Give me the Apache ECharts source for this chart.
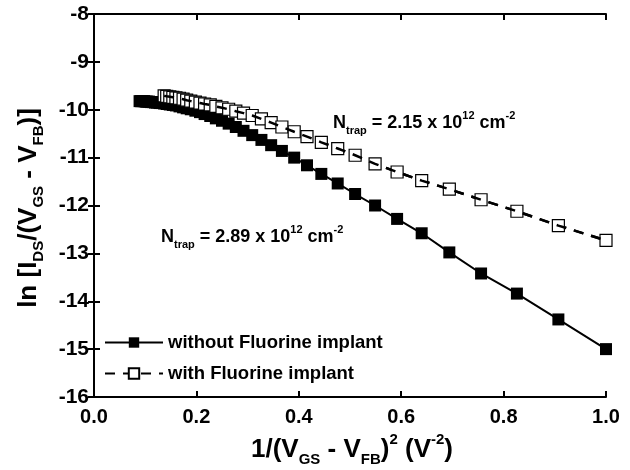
<!DOCTYPE html>
<html><head><meta charset="utf-8">
<script src="https://cdn.jsdelivr.net/npm/echarts@6/dist/echarts.min.js"></script>
<style>html,body{margin:0;padding:0;background:#fff}#c{width:630px;height:470px}</style>
</head><body><div id="c"></div>
<script>
// ---- data ----
const xWithout = [0.089,0.0918,0.0947,0.0977,0.1008,0.104,0.1075,0.111,0.115,0.119,0.123,0.128,0.132,0.137,0.142,0.148,0.154,0.160,0.167,0.174,0.181,0.189,0.198,0.207,0.216,0.227,0.238,0.250,0.263,0.277,0.292,0.309,0.327,0.346,0.367,0.391,0.416,0.444,0.476,0.510,0.549,0.592,0.640,0.694,0.756,0.826,0.907,1.0];
const yWithout = [-9.82,-9.82,-9.82,-9.82,-9.83,-9.83,-9.83,-9.84,-9.84,-9.85,-9.85,-9.86,-9.86,-9.87,-9.88,-9.89,-9.90,-9.91,-9.93,-9.95,-9.97,-9.99,-10.02,-10.05,-10.09,-10.13,-10.18,-10.23,-10.29,-10.36,-10.44,-10.53,-10.63,-10.74,-10.86,-11.00,-11.16,-11.34,-11.54,-11.76,-12.00,-12.28,-12.58,-12.98,-13.42,-13.84,-14.38,-15.0];
const xWith = [0.137,0.142,0.148,0.154,0.160,0.167,0.174,0.181,0.189,0.198,0.207,0.216,0.227,0.238,0.250,0.263,0.277,0.292,0.309,0.327,0.346,0.367,0.391,0.416,0.444,0.476,0.510,0.549,0.592,0.640,0.694,0.756,0.826,0.907,1.0];
const yWith = [-9.71,-9.72,-9.73,-9.74,-9.75,-9.76,-9.78,-9.80,-9.82,-9.84,-9.86,-9.88,-9.90,-9.93,-9.96,-9.99,-10.03,-10.07,-10.12,-10.19,-10.27,-10.36,-10.46,-10.56,-10.68,-10.81,-10.95,-11.13,-11.30,-11.48,-11.66,-11.88,-12.12,-12.42,-12.73];
const seriesNames = ['without Fluorine implant','with Fluorine implant'];
const xRange = [0, 1.0, 0.2];
const yRange = [-16, -8, 1];

const FONT = '"Liberation Sans", Arial, Helvetica, sans-serif';
const pairs = (xs, ys) => xs.map((x, i) => [x, ys[i]]);
const chart = echarts.init(document.getElementById('c'), null, {renderer: 'canvas'});

const axisCommon = {
  type: 'value',
  axisLine: {show: true, lineStyle: {color: '#000', width: 2}},
  axisTick: {show: true, inside: true, length: 6, lineStyle: {color: '#000', width: 2}},
  splitLine: {show: false},
};
const mainRich = {
  n: {fontSize: 18, fontWeight: 'bold', fontFamily: FONT, lineHeight: 26, verticalAlign: 'middle'},
  s: {fontSize: 11, fontWeight: 'bold', fontFamily: FONT, verticalAlign: 'bottom', lineHeight: 12},
  p: {fontSize: 11, fontWeight: 'bold', fontFamily: FONT, verticalAlign: 'top', lineHeight: 12}
};
const titleRich = {
  n: {fontSize: 26, fontWeight: 'bold', fontFamily: FONT, lineHeight: 35, verticalAlign: 'middle'},
  s: {fontSize: 15, fontWeight: 'bold', fontFamily: FONT, verticalAlign: 'bottom', lineHeight: 15},
  p: {fontSize: 15, fontWeight: 'bold', fontFamily: FONT, verticalAlign: 'top', lineHeight: 16}
};

chart.setOption({
  animation: false,
  backgroundColor: '#fff',
  grid: {left: 94, right: 24, top: 14, bottom: 73, containLabel: false},
  xAxis: [
    Object.assign({}, axisCommon, {min: xRange[0], max: xRange[1], interval: xRange[2], position: 'bottom',
      axisLabel: {color: '#000', fontSize: 20, fontWeight: 'bold', fontFamily: FONT, margin: 10,
        formatter: v => v.toFixed(1)}}),
    Object.assign({}, axisCommon, {min: xRange[0], max: xRange[1], interval: xRange[2], position: 'top',
      axisLabel: {show: false}})
  ],
  yAxis: [
    Object.assign({}, axisCommon, {min: yRange[0], max: yRange[1], interval: yRange[2], position: 'left',
      axisLabel: {color: '#000', fontSize: 21, fontWeight: 'bold', fontFamily: FONT, margin: 5}}),
    Object.assign({}, axisCommon, {min: yRange[0], max: yRange[1], interval: yRange[2], position: 'right',
      axisLabel: {show: false}})
  ],
  legend: {
    orient: 'vertical', left: 99, top: 328, itemWidth: 58, itemHeight: 13, itemGap: 12,
    data: seriesNames,
    textStyle: {color: '#000', fontSize: 18.5, fontWeight: 'bold', fontFamily: FONT}
  },
  graphic: [
    {type: 'text', left: 333, top: 110, z: 100,
     style: {text: '{n|N}{s|trap}{n| = 2.15 x 10}{p|12}{n| cm}{p|-2}', rich: mainRich, fill: '#000'}},
    {type: 'text', left: 161, top: 224, z: 100,
     style: {text: '{n|N}{s|trap}{n| = 2.89 x 10}{p|12}{n| cm}{p|-2}', rich: mainRich, fill: '#000'}},
    {type: 'text', x: 352, y: 450, z: 100,
     style: {text: '{n|1/(V}{s|GS}{n| - V}{s|FB}{n|)}{p|2}{n| (V}{p|-2}{n|)}', rich: titleRich, fill: '#000',
       align: 'center', verticalAlign: 'middle'}},
    {type: 'text', x: 29, y: 208, rotation: Math.PI / 2, z: 100,
     style: {text: '{n|ln [I}{s|DS}{n|/(V}{s|GS}{n| - V}{s|FB}{n|)]}', rich: titleRich, fill: '#000',
       align: 'center', verticalAlign: 'middle'}}
  ],
  series: [
    {name: seriesNames[0], type: 'line', data: pairs(xWithout, yWithout), z: 3,
     symbol: 'rect', symbolSize: 12,
     itemStyle: {color: '#000', borderColor: '#000', borderWidth: 0},
     lineStyle: {color: '#000', width: 2, type: 'solid'}},
    {name: seriesNames[1], type: 'line', data: pairs(xWith, yWith), z: 4,
     symbol: 'rect', symbolSize: 12,
     itemStyle: {color: '#fff', borderColor: '#000', borderWidth: 1.2},
     lineStyle: {color: '#000', width: 2.5, type: [10, 8]}},
    {name: 'with-line-overlay', type: 'line', data: pairs(xWith, yWith), z: 5,
     symbol: 'none', silent: true,
     lineStyle: {color: '#000', width: 2.5, type: [10, 8]}}
  ]
});
</script>
</body></html>
